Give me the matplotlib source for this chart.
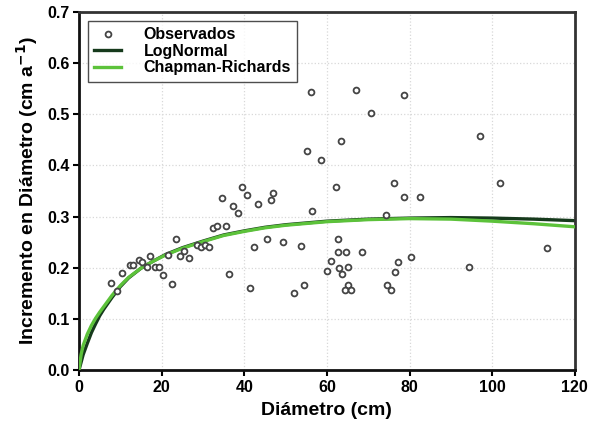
import numpy as np
import matplotlib.pyplot as plt

plt.rcParams['font.family'] = ['Liberation Sans', 'DejaVu Sans']
plt.rcParams['font.weight'] = 'bold'

# observed diameter increments
obs_d = [7.7, 9.3, 10.5, 12.3, 13.1, 14.4, 15.2, 16.4, 17.3, 18.4, 19.4, 20.4,
         21.5, 22.4, 23.5, 24.4, 25.5, 26.6, 28.5, 29.5, 30.5, 31.5, 32.5, 33.5,
         35.5, 36.4, 34.5, 37.3, 38.4, 39.4, 40.6, 43.4, 46.4, 47.0, 41.3, 42.4,
         45.4, 49.4, 52.1, 53.7, 54.4, 56.5, 58.6, 55.3, 56.1, 67.0, 78.7, 70.6,
         63.4, 97.0, 62.2, 76.3, 78.6, 82.5, 102.0, 74.4, 62.7, 62.7, 64.6, 68.5,
         61.1, 60.1, 63.0, 63.7, 65.0, 65.2, 64.4, 65.8, 74.6, 75.4, 77.1, 76.6,
         80.3, 94.4, 113.2]
obs_inc = [0.170, 0.155, 0.189, 0.205, 0.205, 0.215, 0.212, 0.202, 0.222, 0.202,
           0.202, 0.186, 0.225, 0.168, 0.256, 0.222, 0.233, 0.218, 0.245, 0.241,
           0.245, 0.241, 0.277, 0.282, 0.282, 0.188, 0.337, 0.321, 0.307, 0.358,
           0.342, 0.325, 0.333, 0.347, 0.160, 0.240, 0.257, 0.251, 0.151, 0.243,
           0.166, 0.311, 0.411, 0.429, 0.543, 0.548, 0.538, 0.502, 0.447, 0.457,
           0.357, 0.365, 0.338, 0.338, 0.365, 0.303, 0.256, 0.230, 0.230, 0.230,
           0.213, 0.193, 0.199, 0.188, 0.202, 0.166, 0.157, 0.157, 0.166, 0.157,
           0.211, 0.192, 0.220, 0.202, 0.238]

# fitted model curves
curve_d = [0, 0.5, 1, 2, 3, 4, 5, 6, 8, 10, 12, 15, 18, 21, 25, 30, 35, 40, 45,
           50, 60, 70, 80, 90, 100, 110, 120]
lognormal = [0, 0.015, 0.030, 0.052, 0.073, 0.090, 0.106, 0.119, 0.142, 0.163,
             0.180, 0.199, 0.213, 0.226, 0.239, 0.252, 0.264, 0.272, 0.279,
             0.284, 0.291, 0.295, 0.297, 0.298, 0.297, 0.295, 0.292]
chapman = [0, 0.030, 0.048, 0.070, 0.087, 0.101, 0.113, 0.124, 0.146, 0.165,
           0.181, 0.199, 0.213, 0.225, 0.238, 0.251, 0.263, 0.271, 0.278,
           0.283, 0.290, 0.294, 0.296, 0.295, 0.291, 0.286, 0.280]

fig = plt.figure(figsize=(6.0, 4.36), dpi=100)
ax = fig.add_axes([0.1317, 0.1514, 0.8263, 0.8211])

ax.plot(obs_d, obs_inc, 'o', ms=4.2, mfc='white', mec='#444444', mew=1.3,
        linestyle='none', label='Observados', zorder=4)
ax.plot(curve_d, lognormal, color='#163a1c', lw=2.4, label='LogNormal', zorder=2)
ax.plot(curve_d, chapman, color='#5cc23a', lw=2.4, label='Chapman-Richards', zorder=3)

ax.set_xlim(0, 120)
ax.set_ylim(0, 0.7)
ax.set_xticks(np.arange(0, 121, 20))
ax.set_yticks(np.arange(0, 0.71, 0.1))
ax.yaxis.set_major_formatter(plt.FormatStrFormatter('%.1f'))
ax.grid(True, color='#d8d8d8', linestyle=':', linewidth=0.9)
ax.set_axisbelow(True)

for side in ['left', 'bottom']:
    ax.spines[side].set_linewidth(2.0)
    ax.spines[side].set_color('#111111')
for side in ['top', 'right']:
    ax.spines[side].set_linewidth(2.0)
    ax.spines[side].set_color('#333333')

ax.tick_params(direction='out', length=4, width=1.5, labelsize=11.5, pad=3)
for lbl in ax.get_xticklabels() + ax.get_yticklabels():
    lbl.set_fontweight('bold')

ax.set_xlabel('Diámetro (cm)', fontsize=14, fontweight='bold', labelpad=5)
ax.set_ylabel('Incremento en Diámetro (cm a$^{\\mathbf{-1}}$)', fontsize=14,
              fontweight='bold', labelpad=5)

leg = ax.legend(loc='upper left', bbox_to_anchor=(0.0, 1.0), fontsize=11.5,
                frameon=True, fancybox=False, edgecolor='#222222',
                handlelength=1.7, borderpad=0.4, labelspacing=0.1,
                handletextpad=1.4, borderaxespad=0.55)
leg.get_frame().set_linewidth(1.0)
for t in leg.get_texts():
    t.set_fontweight('bold')

fig.savefig('out.png', dpi=100)
